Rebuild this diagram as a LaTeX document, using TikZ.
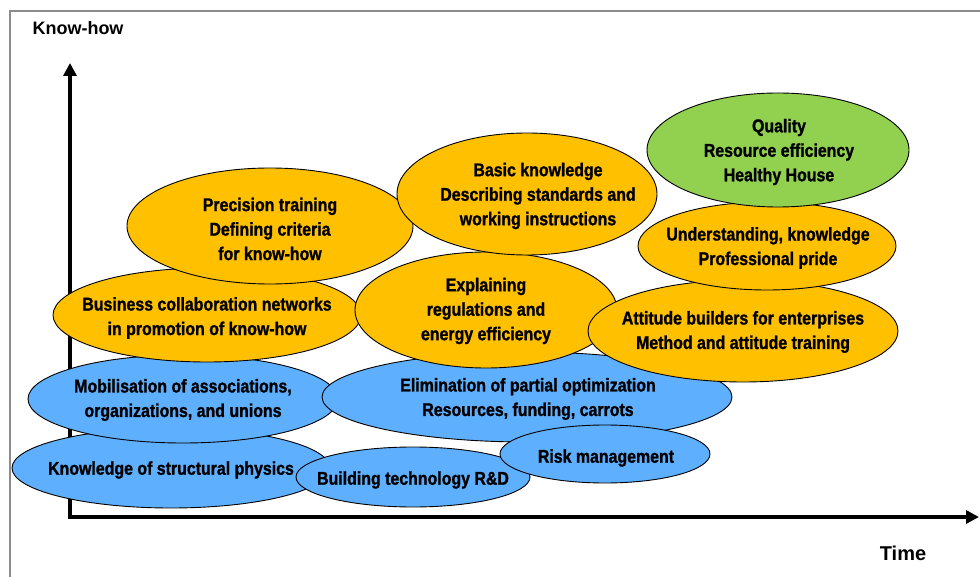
\documentclass[tikz,border=0pt]{standalone}
\usepackage{fontspec}
\setmainfont{Liberation Sans}
\newfontfamily\condfont[FakeStretch=0.86, BoldFeatures={FakeBold=1.2}]{Liberation Sans}
\usetikzlibrary{arrows.meta}
\definecolor{bubblegold}{HTML}{FFC000}
\definecolor{bubbleblue}{HTML}{5FAFFF}
\definecolor{bubblegreen}{HTML}{92D050}
\definecolor{framegray}{HTML}{8C8C8C}
\tikzset{
  bubble/.style={draw=black, line width=0.9pt},
  gold/.style={bubble, fill=bubblegold},
  blue/.style={bubble, fill=bubbleblue},
  green/.style={bubble, fill=bubblegreen},
  label/.style={align=center, inner sep=0pt, yshift=-2pt,
    font=\condfont\bfseries\fontsize{18.5}{24.5}\selectfont},
  axis/.style={line width=3.6pt, line join=miter,
    {Triangle[width=13pt,length=13pt]}-{Triangle[width=13pt,length=13pt]}},
  axistitle/.style={inner sep=0pt, font=\bfseries}
}
\begin{document}
\begin{tikzpicture}[x=1pt,y=-1pt]
\useasboundingbox (0,0) rectangle (980,577);

% outer frame (top and left edges only)
\draw[framegray, line width=1.5pt] (10,577) -- (10,11) -- (980,11);

% axes
\coordinate (ytip) at (70,63);
\coordinate (origin) at (70,517);
\coordinate (xtip) at (979,517);
\draw[axis] (ytip) -- (origin) -- (xtip);

\node[axistitle, font=\bfseries\fontsize{18}{20}\selectfont] (knowhow) at (78,28) {Know-how};
\node[axistitle, font=\bfseries\fontsize{20}{22}\selectfont] (time) at (903,553) {Time};

% lower layer: blue bubbles
\draw[blue] (171,468) ellipse [x radius=159, y radius=40];
\node[label] (physics) at (171,468) {Knowledge of structural physics};

\draw[blue] (183,399) ellipse [x radius=155, y radius=44];
\node[label] (mobil) at (183,398) {Mobilisation of associations,\\organizations, and unions};

\draw[blue] (527,397) ellipse [x radius=205, y radius=45];
\node[label] (elim) at (528,397) {Elimination of partial optimization\\Resources, funding, carrots};

\draw[blue] (413,477) ellipse [x radius=117, y radius=30];
\node[label] (rnd) at (413,478) {Building technology R\&D};

\draw[blue] (605,454) ellipse [x radius=105, y radius=29];
\node[label] (risk) at (606,456) {Risk management};

% middle layer: gold bubbles
\draw[gold] (207,315) ellipse [x radius=154, y radius=47];
\node[label] (business) at (207,316) {Business collaboration networks\\in promotion of know-how};

\draw[gold] (270,226) ellipse [x radius=143, y radius=58];
\node[label] (precision) at (270,227) {Precision training\\Defining criteria\\for know-how};

\draw[gold] (486,310) ellipse [x radius=131, y radius=58];
\node[label] (explain) at (486,309) {Explaining\\regulations and\\energy efficiency};

\draw[gold] (527,194) ellipse [x radius=130, y radius=61];
\node[label] (basic) at (538,194) {Basic knowledge\\Describing standards and\\working instructions};

\draw[gold] (743,331) ellipse [x radius=155, y radius=51];
\node[label] (attitude) at (743,330) {Attitude builders for enterprises\\Method and attitude training};

\draw[gold] (767,246) ellipse [x radius=129, y radius=44];
\node[label] (pride) at (768,246) {Understanding, knowledge\\Professional pride};

% top: green bubble
\draw[green] (778,150) ellipse [x radius=131, y radius=57];
\node[label] (quality) at (779,150) {Quality\\Resource efficiency\\Healthy House};
\end{tikzpicture}
\end{document}
